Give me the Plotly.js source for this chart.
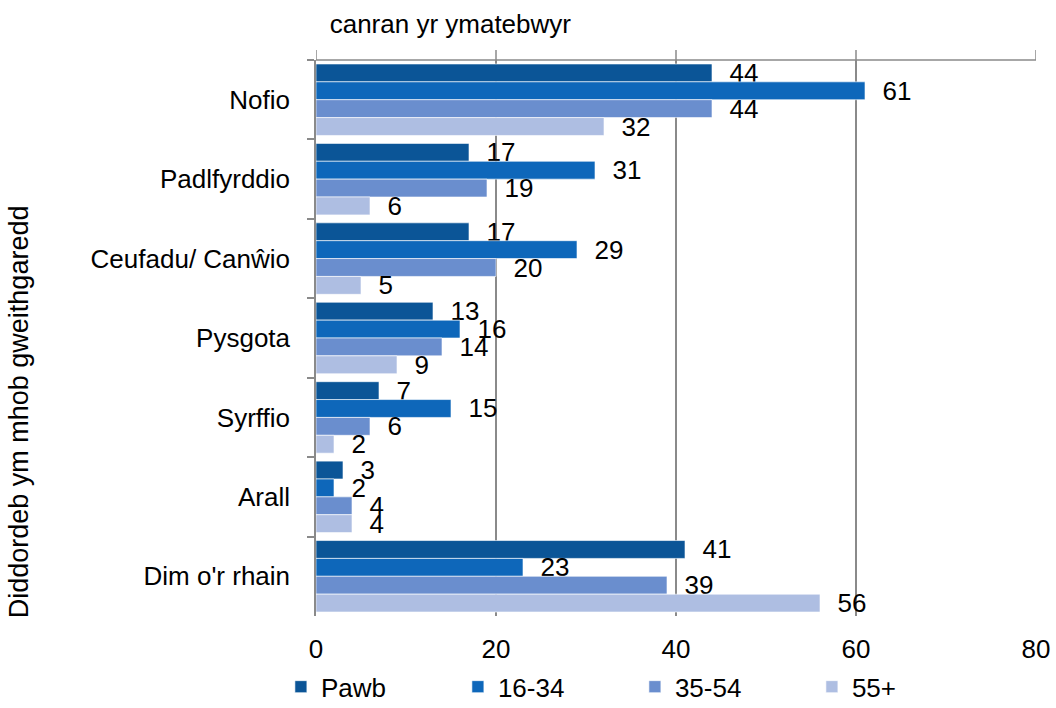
<!DOCTYPE html>
<html>
<head>
<meta charset="utf-8">
<script src="https://cdn.plot.ly/plotly-3.0.1.min.js"></script>
<style>html,body{margin:0;padding:0;background:#fff;}#chart{width:1056px;height:708px;}</style>
</head>
<body>
<div id="chart"></div>
<script>
const categories = ["Nofio", "Padlfyrddio", "Ceufadu/ Canŵio", "Pysgota", "Syrffio", "Arall", "Dim o'r rhain"];
const seriesNames = ["Pawb", "16-34", "35-54", "55+"];
const pawb   = [44, 17, 17, 13, 7, 3, 41];
const age1634 = [61, 31, 29, 16, 15, 2, 23];
const age3554 = [44, 19, 20, 14, 6, 4, 39];
const age55  = [32, 6, 5, 9, 2, 4, 56];
const xTicks = [0, 20, 40, 60, 80];
const colors = ["#0B5597", "#0E67BA", "#6A8ECE", "#AEBEE2"];

const allSeries = [pawb, age1634, age3554, age55];
const FONT = "Liberation Sans, Arial, sans-serif";
const FS = 26;
const AXIS_GREY = "#8A8A8A";

const traces = allSeries.map((vals, i) => ({
  type: "bar",
  orientation: "h",
  name: seriesNames[i],
  y: categories,
  x: vals,
  text: vals.map(v => "\u00a0\u00a0" + v),
  textposition: "outside",
  constraintext: "none",
  cliponaxis: false,
  textfont: {family: FONT, size: FS, color: "#000"},
  marker: {color: colors[i], line: {color: "rgba(255,255,255,0.6)", width: 1}},
  hoverinfo: "x+y"
}));

// top axis line and upward tick marks (axis drawn at top, labels at bottom)
const shapes = [{
  type: "line", xref: "x", yref: "paper",
  x0: xTicks[0], x1: xTicks[xTicks.length - 1], y0: 1, y1: 1,
  line: {color: AXIS_GREY, width: 1.5}
}].concat(xTicks.map(t => ({
  type: "line", xref: "x", yref: "paper",
  x0: t, x1: t, y0: 1, y1: 1.018,
  line: {color: AXIS_GREY, width: 1.5}
})));

const layout = {
  width: 1056, height: 708,
  paper_bgcolor: "#fff", plot_bgcolor: "#fff",
  margin: {l: 316, r: 20, t: 60, b: 92},
  font: {family: FONT, size: FS, color: "#000"},
  barmode: "group",
  bargap: 0.1,
  bargroupgap: 0,
  title: {
    text: "canran yr ymatebwyr",
    font: {family: FONT, size: FS, color: "#000"},
    xref: "paper", x: 0.019, xanchor: "left",
    yref: "container", y: 0.966, yanchor: "middle"
  },
  xaxis: {
    range: [0, 80],
    tickvals: xTicks,
    ticktext: xTicks.map(String),
    side: "bottom",
    showline: false,
    ticks: "",
    ticklabelstandoff: 15,
    showgrid: true,
    gridcolor: AXIS_GREY,
    gridwidth: 1.5,
    zeroline: false,
    tickfont: {family: FONT, size: FS, color: "#000"},
    fixedrange: true
  },
  yaxis: {
    autorange: "reversed",
    type: "category",
    showline: true,
    linecolor: AXIS_GREY,
    linewidth: 1.5,
    ticks: "outside",
    tickson: "boundaries",
    ticklen: 7,
    tickwidth: 1.5,
    tickcolor: AXIS_GREY,
    ticklabelstandoff: 19,
    showgrid: false,
    zeroline: false,
    tickfont: {family: FONT, size: FS, color: "#000"}
  },
  shapes: shapes,
  showlegend: true,
  legend: {
    orientation: "h",
    xref: "container", x: 0.266, xanchor: "left",
    yref: "container", y: 0.03, yanchor: "middle",
    entrywidth: 132, entrywidthmode: "pixels",
    font: {family: FONT, size: FS, color: "#000"},
    traceorder: "normal",
    itemclick: false, itemdoubleclick: false
  },
  annotations: [{
    text: "Diddordeb ym mhob gweithgaredd",
    textangle: -90,
    xref: "paper", x: -0.412, xanchor: "center",
    yref: "paper", y: 0.367, yanchor: "middle",
    showarrow: false,
    font: {family: FONT, size: 27, color: "#000"}
  }]
};

Plotly.newPlot("chart", traces, layout, {displayModeBar: false});
</script>
</body>
</html>
